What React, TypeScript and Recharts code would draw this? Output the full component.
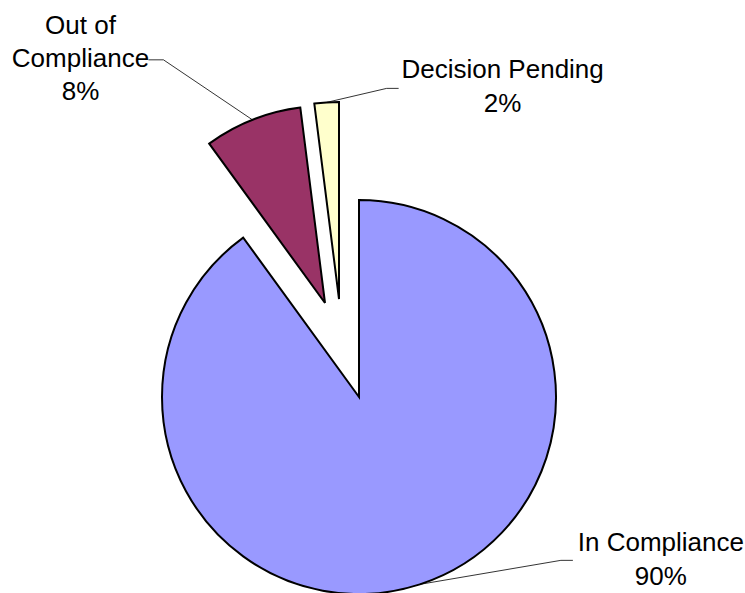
import { PieChart, Pie, Cell, Sector } from "recharts";

const categories = ["In Compliance", "Out of Compliance", "Decision Pending"];
const shares = [90, 8, 2];
const colors = ["#9999FF", "#993366", "#FFFFCC"];

const data = categories.map((name, i) => ({ name, value: shares[i] }));

// how far each slice is pulled out of the pie (px)
const explode: Record<string, [number, number]> = {
  "Out of Compliance": [-34, -94],
  "Decision Pending": [-20, -98],
};

// leader line elbow relative to the slice's arc midpoint, text placement relative to elbow
const labelLayout: Record<string, { elbow: [number, number]; stub: number; textX: number; lines: string[]; dy: number[] }> = {
  "In Compliance": { elbow: [141, -24], stub: 12, textX: 100, lines: ["In Compliance"], dy: [-9, 25] },
  "Out of Compliance": { elbow: [-89, -60], stub: -15, textX: -83, lines: ["Out of", "Compliance"], dy: [-26, 7, 40] },
  "Decision Pending": { elbow: [60, -14], stub: 12, textX: 116, lines: ["Decision Pending"], dy: [-10, 24] },
};

const RAD = Math.PI / 180;

function ExplodedSector(props: any) {
  const [dx, dy] = explode[props.name] ?? [0, 0];
  return <Sector {...props} cx={props.cx + dx} cy={props.cy + dy} />;
}

function renderLabel(props: any) {
  const { cx, cy, midAngle, outerRadius, name, percent } = props;
  const [ex, ey] = explode[name] ?? [0, 0];
  const ax = cx + ex + outerRadius * Math.cos(-midAngle * RAD);
  const ay = cy + ey + outerRadius * Math.sin(-midAngle * RAD);
  const lay = labelLayout[name];
  const bx = ax + lay.elbow[0];
  const by = ay + lay.elbow[1];
  const lines = [...lay.lines, `${Math.round(percent * 100)}%`];
  return (
    <g key={name}>
      <path d={`M${ax},${ay}L${bx},${by}L${bx + lay.stub},${by}`} stroke="#000" strokeWidth={0.8} fill="none" />
      <text x={bx + lay.textX} y={by} textAnchor="middle" fontSize={26} fill="#000" fontFamily="'Liberation Sans', Arial, sans-serif">
        {lines.map((t, i) => (
          <tspan key={i} x={bx + lay.textX} y={by + lay.dy[i]}>
            {t}
          </tspan>
        ))}
      </text>
    </g>
  );
}

export default function App() {
  return (
    <div style={{ position: "absolute", left: 0, top: 0, width: 745, height: 593, background: "#fff" }}>
      <PieChart width={745} height={593} margin={{ top: 0, right: 0, bottom: 0, left: 0 }}>
        <Pie
          data={data}
          dataKey="value"
          nameKey="name"
          cx={359}
          cy={397}
          outerRadius={197}
          startAngle={90}
          endAngle={-270}
          stroke="#000"
          strokeWidth={2}
          shape={ExplodedSector}
          label={renderLabel}
          labelLine={false}
          isAnimationActive={false}
        >
          {data.map((d, i) => (
            <Cell key={d.name} fill={colors[i]} />
          ))}
        </Pie>
      </PieChart>
    </div>
  );
}
